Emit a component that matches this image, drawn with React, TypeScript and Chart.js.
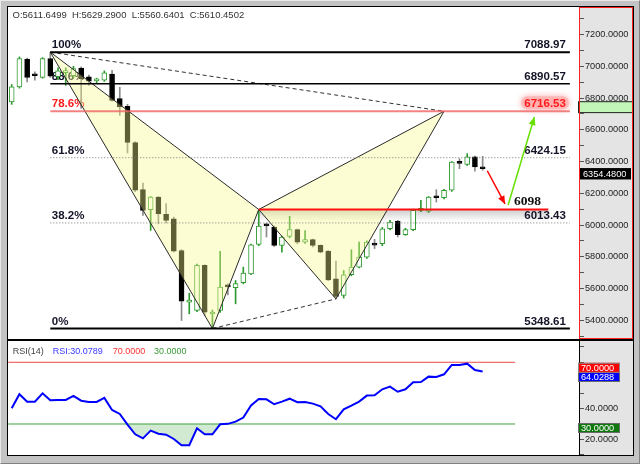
import React, { useEffect, useRef } from 'react';
import { Chart, registerables } from 'chart.js';

Chart.register(...registerables);
Chart.defaults.font.family = '"Liberation Sans", Arial, sans-serif';

// ---------------- data ----------------
const opens = [6775, 6870, 7045, 6946, 6929, 7049, 6935, 6960, 6940, 6989, 6933, 6908, 6912, 6950, 6797, 6748, 6519, 6223, 6097, 6176, 6067, 6040, 5840, 5515, 5462, 5746, 5440, 5462, 5611.6499, 5605, 5637, 5693, 5878, 6002, 5987, 5872, 5928, 5971, 5893, 5908, 5872, 5834, 5662, 5557, 5687, 5735, 5798, 5880, 5883, 5977, 6023, 5939, 5971, 6092, 6088, 6180, 6172, 6219, 6395, 6382, 6429, 6366];
const highs = [6885, 7059, 7052, 6965, 7055, 7088.97, 6990, 6990, 7000, 6996, 6945, 6925, 6971, 6975, 6868, 6760, 6525, 6265, 6180, 6180, 6135, 6050, 5845, 5571, 5755, 5750, 5465, 5834, 5629.29, 5651, 5735, 5880, 6098, 6012, 5995, 5930, 6055, 5975, 5966, 5912, 5875, 5840, 5773, 5714, 5845, 5893, 5900, 5910, 5985, 6030, 6030, 5980, 6100, 6155, 6180, 6223, 6225, 6400, 6418, 6450, 6435, 6433];
const lows = [6760, 6862, 6901, 6912, 6925, 6930, 6915, 6880, 6925, 6735, 6880, 6895, 6905, 6780, 6691, 6454, 6210, 6060, 5966, 6008, 6013, 5830, 5399, 5441, 5455, 5430, 5348.61, 5450, 5560.6401, 5504, 5630, 5688, 5870, 5925, 5865, 5830, 5920, 5882, 5885, 5862, 5825, 5650, 5535, 5540, 5680, 5730, 5790, 5852, 5870, 5970, 5925, 5935, 5965, 6085, 6080, 6145, 6165, 6212, 6355, 6375, 6340, 6345];
const closes = [6870, 7049, 6929, 6940, 7049, 6937, 6972, 6968, 6986, 6922, 6906, 6916, 6958, 6785, 6744, 6521, 6219, 6092, 6176, 6072, 6029, 5836, 5521, 5525, 5746, 5451, 5452, 5609, 5610.4502, 5631, 5697, 5876, 5993, 5995, 5872, 5924, 5971, 5893, 5908, 5872, 5830, 5655, 5550, 5687, 5735, 5798, 5893, 5874, 5977, 6019, 5939, 5971, 6092, 6096, 6176, 6172, 6219, 6397, 6388, 6429, 6366, 6354.48];
const rsiValues = [40.2, 49.3, 44.5, 44.5, 49.9, 45.4, 45.6, 45.6, 48.2, 45.1, 44.3, 44.3, 46.9, 39.1, 36.5, 29.6, 23.3, 20.7, 25.7, 23.7, 23.1, 20.3, 16.2, 16.2, 27.2, 23.3, 23.3, 29.8, 30.0789, 31.5, 34.2, 42.0, 46.2, 46.0, 42.8, 44.5, 46.4, 44.1, 44.3, 43.2, 41.5, 36.5, 33.1, 39.5, 41.9, 44.5, 48.4, 48.6, 52.5, 54.2, 50.9, 52.5, 57.0, 57.2, 60.7, 60.5, 62.2, 68.3, 68.3, 69.1, 65.0, 64.0288];

const hoverIndex = 28;
const priceTicks = [5300, 5400, 5500, 5600, 5700, 5800, 5900, 6000, 6100, 6200, 6300, 6400, 6500, 6600, 6700, 6800, 6900, 7000, 7100, 7200, 7300];
const priceLabelTicks = [5400, 5600, 5800, 6000, 6200, 6400, 6600, 6800, 7000, 7200];
const rsiTicks = [10, 20, 30, 40, 50, 60, 70, 80];
const rsiLabelTicks = [20, 40, 60];

const fibLevels = [7088.97, 6890.57, 6716.53, 6424.15, 6013.43, 5348.61];
const fibNames = ['100%', '88.6%', '78.6%', '61.8%', '38.2%', '0%'];
const fibSpan = [5, 72.3];

// harmonic pattern X, A, B, C, D
const patternIdx = [5, 26, 32, 42, 56];
const patternPrice = [7088.97, 5348.61, 6098, 5535, 6716.53];

const targetLevel = 6098;
const targetSpan = [32, 69.5];
const downArrowX = [61.6, 63.9];
const downArrowY = [6342, 6133];
const upArrowX = [64.3, 67.7];
const upArrowY = [6126, 6680];

const lastPrice = 6354.48;
const zoneTop = 6780;
const zoneBottom = 6705;

const rsiLevels = [70, 30];
const rsiLevelSpan = [-0.45, 65.2];
const rsiPeriod = 14;

// ---------------- helpers ----------------
const X_MIN = -0.479;
const X_MAX = 73.61;
const AXIS_W = 53;
const GREEN = '#2f9a2f';
const WICK_GRAY = '#8a8a8a';
const AXIS_FONT = '9.2px "Liberation Sans"';

const idx = opens.map((_, i) => i);
const bull = idx.map((i) => closes[i] >= opens[i]);

function arrowHead(ctx: CanvasRenderingContext2D, x0: number, y0: number, x1: number, y1: number, color: string) {
  const a = Math.atan2(y1 - y0, x1 - x0);
  const L = 8, W = 3.5;
  ctx.beginPath();
  ctx.moveTo(x1, y1);
  ctx.lineTo(x1 - L * Math.cos(a) + W * Math.sin(a), y1 - L * Math.sin(a) - W * Math.cos(a));
  ctx.lineTo(x1 - L * Math.cos(a) - W * Math.sin(a), y1 - L * Math.sin(a) + W * Math.cos(a));
  ctx.closePath();
  ctx.fillStyle = color;
  ctx.fill();
}

function axisBox(ctx: CanvasRenderingContext2D, x: number, y: number, w: number, h: number, bg: string, fg: string, text: string, border: string) {
  ctx.fillStyle = bg;
  ctx.fillRect(x, y, w, h);
  ctx.strokeStyle = border;
  ctx.lineWidth = 1;
  ctx.strokeRect(x + 0.5, y + 0.5, w - 1, h - 1);
  ctx.fillStyle = fg;
  ctx.font = AXIS_FONT;
  ctx.textAlign = 'left';
  ctx.textBaseline = 'middle';
  ctx.fillText(text, x + 3, y + h / 2 + 0.5);
}

const bgPlugin = {
  id: 'bgPlugin',
  beforeDraw(chart: any) {
    const { ctx, chartArea: a, width, height } = chart;
    ctx.save();
    ctx.fillStyle = '#e4e4e4';
    ctx.fillRect(0, 0, width, height);
    ctx.fillStyle = '#ffffff';
    ctx.fillRect(a.left, a.top, a.right - a.left, a.bottom - a.top);
    ctx.restore();
  },
};

const mainDecor = {
  id: 'mainDecor',
  beforeDatasetsDraw(chart: any) {
    const { ctx } = chart;
    const xs = chart.scales.x, ys = chart.scales.y;
    ctx.save();
    // soft shadow under the target line
    const ty = ys.getPixelForValue(targetLevel);
    const tx0 = xs.getPixelForValue(targetSpan[0]);
    const tx1 = xs.getPixelForValue(targetSpan[1]);
    const g = ctx.createLinearGradient(0, ty, 0, ty + 12);
    g.addColorStop(0, 'rgba(110,110,110,0.35)');
    g.addColorStop(1, 'rgba(110,110,110,0)');
    ctx.fillStyle = g;
    ctx.fillRect(tx0, ty, tx1 - tx0, 12);

    // fib labels
    ctx.font = 'bold 11.5px "Liberation Sans"';
    ctx.textBaseline = 'alphabetic';
    const lx = xs.getPixelForValue(fibSpan[0]) + 1.5;
    const rx = xs.getPixelForValue(fibSpan[1]) - 4;
    fibLevels.forEach((lvl, k) => {
      const yy = ys.getPixelForValue(lvl);
      const red = k === 2;
      const txt = lvl.toFixed(2);
      if (red) {
        const w = ctx.measureText(txt).width;
        ctx.save();
        ctx.shadowColor = 'rgba(255,120,120,0.9)';
        ctx.shadowBlur = 6;
        ctx.fillStyle = 'rgba(255,175,175,0.7)';
        ctx.beginPath();
        ctx.roundRect(rx - w - 3, yy - 15, w + 6, 13, 6);
        ctx.fill();
        ctx.restore();
      }
      ctx.fillStyle = red ? '#ff1a1a' : '#141428';
      ctx.textAlign = 'left';
      ctx.fillText(fibNames[k], lx, yy - 4);
      ctx.textAlign = 'right';
      ctx.fillText(txt, rx, yy - 4);
    });
    ctx.restore();
  },
  afterDatasetsDraw(chart: any) {
    const { ctx } = chart;
    const xs = chart.scales.x, ys = chart.scales.y;
    ctx.save();
    arrowHead(ctx, xs.getPixelForValue(downArrowX[0]), ys.getPixelForValue(downArrowY[0]), xs.getPixelForValue(downArrowX[1]), ys.getPixelForValue(downArrowY[1]), '#ff0000');
    arrowHead(ctx, xs.getPixelForValue(upArrowX[0]), ys.getPixelForValue(upArrowY[0]), xs.getPixelForValue(upArrowX[1]), ys.getPixelForValue(upArrowY[1]), '#66e000');

    // target label
    ctx.font = 'bold 13.5px "Liberation Serif"';
    ctx.fillStyle = '#111111';
    ctx.textAlign = 'left';
    ctx.textBaseline = 'alphabetic';
    ctx.fillText(String(targetLevel), xs.getPixelForValue(65.07), ys.getPixelForValue(targetLevel) - 4);

    // header OHLC
    ctx.font = '9.5px "Liberation Sans"';
    ctx.fillStyle = '#333333';
    ctx.textBaseline = 'middle';
    const h = hoverIndex;
    ctx.fillText(`O:${opens[h].toFixed(4)}  H:${highs[h].toFixed(4)}  L:${lows[h].toFixed(4)}  C:${closes[h].toFixed(4)}`, 4.5, 8.5);
    ctx.restore();
  },
  afterDraw(chart: any) {
    const { ctx, chartArea: a, width, height } = chart;
    const ys = chart.scales.y;
    ctx.save();
    // zone label
    const zt = ys.getPixelForValue(zoneTop), zb = ys.getPixelForValue(zoneBottom);
    ctx.fillStyle = '#c2f5b8';
    ctx.fillRect(a.right - 2, zt, width - a.right + 2, zb - zt);
    ctx.strokeStyle = '#222';
    ctx.lineWidth = 1;
    ctx.strokeRect(a.right - 1.5, zt + 0.5, width - a.right + 1, zb - zt - 1);
    // last price
    const py = ys.getPixelForValue(lastPrice);
    axisBox(ctx, a.right, py - 0.5, 51, 11, '#000000', '#ffffff', lastPrice.toFixed(4), '#000');
    // selection frame (red)
    ctx.strokeStyle = '#ff2020';
    ctx.lineWidth = 1;
    ctx.strokeRect(a.right - 0.5, 0.5, width - a.right, height - 1);
    ctx.restore();
  },
};

const rsiDecor = {
  id: 'rsiDecor',
  afterDraw(chart: any) {
    const { ctx, chartArea: a } = chart;
    const ys = chart.scales.y;
    ctx.save();
    ctx.strokeStyle = '#000';
    ctx.lineWidth = 1;
    ctx.beginPath();
    ctx.moveTo(a.right - 0.5, 0);
    ctx.lineTo(a.right - 0.5, a.bottom);
    ctx.stroke();

    ctx.font = '9px "Liberation Sans"';
    ctx.textBaseline = 'middle';
    ctx.textAlign = 'left';
    const last = rsiValues[rsiValues.length - 1];
    ctx.fillStyle = '#444444';
    ctx.fillText(`RSI(${rsiPeriod})`, 4.7, 11);
    ctx.fillStyle = '#3a3aff';
    ctx.fillText(`RSI:${rsiValues[hoverIndex].toFixed(4)}`, 44.7, 11);
    ctx.fillStyle = '#ff3030';
    ctx.fillText(rsiLevels[0].toFixed(4), 104.7, 11);
    ctx.fillStyle = '#3a9a3a';
    ctx.fillText(rsiLevels[1].toFixed(4), 146, 11);

    const bx = a.right - 2;
    axisBox(ctx, bx, ys.getPixelForValue(last) + 0.5, 42, 10, '#0000ff', '#ffffff', last.toFixed(4), '#6a6a6a');
    axisBox(ctx, bx, ys.getPixelForValue(rsiLevels[0]) + 0.5, 42, 10, '#ff0000', '#ffffff', rsiLevels[0].toFixed(4), '#8a8a8a');
    axisBox(ctx, bx, ys.getPixelForValue(rsiLevels[1]) - 1, 42, 10, '#0e780e', '#ffffff', rsiLevels[1].toFixed(4), '#6a6a6a');
    ctx.restore();
  },
};

function lineDs(xsArr: number[], ysArr: number[], color: string, width: number, dash: number[], order: number, extra: any = {}) {
  return {
    type: 'line',
    data: xsArr.map((x, k) => ({ x, y: ysArr[k] })),
    borderColor: color,
    borderWidth: width,
    borderDash: dash,
    pointRadius: 0,
    tension: 0,
    fill: false,
    order,
    ...extra,
  };
}

function mainConfig(): any {
  const fibStyles = [
    { c: '#000000', w: 2, d: [] as number[] },
    { c: '#000000', w: 1.5, d: [] },
    { c: 'rgba(240,100,100,0.8)', w: 2, d: [] },
    { c: '#7a7a7a', w: 1, d: [1, 2] },
    { c: '#7a7a7a', w: 1, d: [1, 2] },
    { c: '#000000', w: 2, d: [] },
  ];
  const tri1 = [0, 1, 2, 0];
  const tri2 = [2, 3, 4, 2];
  const datasets: any[] = [
    {
      type: 'bar',
      data: idx.map((i) => ({ x: i, y: [lows[i], highs[i]] })),
      backgroundColor: bull.map((b) => (b ? GREEN : WICK_GRAY)),
      borderWidth: 0,
      barThickness: 1,
      grouped: false,
      order: 10,
    },
    {
      type: 'bar',
      data: idx.map((i) => ({ x: i, y: [opens[i], closes[i]] })),
      backgroundColor: bull.map((b) => (b ? '#ffffff' : '#000000')),
      borderColor: bull.map((b) => (b ? GREEN : '#000000')),
      borderWidth: 1,
      borderSkipped: false,
      barThickness: 5,
      minBarLength: 2,
      grouped: false,
      order: 9,
    },
    lineDs(tri1.map((k) => patternIdx[k]), tri1.map((k) => patternPrice[k]), '#2a2a2a', 1, [], 6, { fill: 'shape', backgroundColor: 'rgba(250,250,140,0.38)' }),
    lineDs(tri2.map((k) => patternIdx[k]), tri2.map((k) => patternPrice[k]), '#2a2a2a', 1, [], 6, { fill: 'shape', backgroundColor: 'rgba(250,250,140,0.38)' }),
    lineDs([patternIdx[0], patternIdx[4]], [patternPrice[0], patternPrice[4]], '#333333', 1, [4, 3], 5),
    lineDs([patternIdx[1], patternIdx[3]], [patternPrice[1], patternPrice[3]], '#333333', 1, [4, 3], 5),
    ...fibLevels.map((lvl, k) => lineDs(fibSpan, [lvl, lvl], fibStyles[k].c, fibStyles[k].w, fibStyles[k].d, 4)),
    lineDs(targetSpan, [targetLevel, targetLevel], '#ff1010', 2, [], 3),
    lineDs(downArrowX, downArrowY, '#ff0000', 1.5, [], 2),
    lineDs(upArrowX, upArrowY, '#66e000', 1.5, [], 2),
  ];
  return {
    type: 'bar',
    data: { datasets },
    options: {
      responsive: false,
      animation: false,
      devicePixelRatio: 1,
      events: [],
      layout: { padding: 0 },
      plugins: { legend: { display: false }, tooltip: { enabled: false } },
      scales: {
        x: { type: 'linear', min: X_MIN, max: X_MAX, display: false, offset: false },
        y: {
          type: 'linear',
          position: 'right',
          min: 5282.5,
          max: 7373.2,
          afterBuildTicks: (s: any) => { s.ticks = priceTicks.map((v) => ({ value: v })); },
          afterFit: (s: any) => { s.width = AXIS_W; s.paddingTop = 0; s.paddingBottom = 0; },
          grid: { drawOnChartArea: false, drawTicks: true, tickLength: 4, color: '#555', tickColor: '#555' },
          border: { display: false },
          ticks: {
            autoSkip: false,
            padding: 1,
            color: '#222',
            font: { size: 9.2, family: '"Liberation Sans"' },
            callback: (v: any) => (priceLabelTicks.includes(Number(v)) ? Number(v).toFixed(4) : ''),
          },
        },
      },
    },
    plugins: [bgPlugin, mainDecor],
  };
}

function rsiConfig(): any {
  const datasets: any[] = [
    lineDs(idx, rsiValues, '#0000ff', 2, [], 0, {
      fill: { target: { value: rsiLevels[1] }, above: 'rgba(0,0,0,0)', below: 'rgba(50,155,50,0.22)' },
    }),
    lineDs(rsiLevelSpan, [rsiLevels[0], rsiLevels[0]], '#f04848', 1, [], 1),
    lineDs(rsiLevelSpan, [rsiLevels[1], rsiLevels[1]], '#3fa33f', 1, [], 1),
  ];
  return {
    type: 'line',
    data: { datasets },
    options: {
      responsive: false,
      animation: false,
      devicePixelRatio: 1,
      events: [],
      layout: { padding: 0 },
      plugins: { legend: { display: false }, tooltip: { enabled: false } },
      scales: {
        x: { type: 'linear', min: X_MIN, max: X_MAX, display: false, offset: false },
        y: {
          type: 'linear',
          position: 'right',
          min: 9.9,
          max: 83.8,
          afterBuildTicks: (s: any) => { s.ticks = rsiTicks.map((v) => ({ value: v })); },
          afterFit: (s: any) => { s.width = AXIS_W; s.paddingTop = 0; s.paddingBottom = 0; },
          grid: { drawOnChartArea: false, drawTicks: true, tickLength: 4, color: '#555', tickColor: '#555' },
          border: { display: false },
          ticks: {
            autoSkip: false,
            padding: 1,
            color: '#222',
            font: { size: 9.2, family: '"Liberation Sans"' },
            callback: (v: any) => (rsiLabelTicks.includes(Number(v)) ? Number(v).toFixed(4) : ''),
          },
        },
      },
    },
    plugins: [bgPlugin, rsiDecor],
  };
}

export default function App() {
  const mainRef = useRef<HTMLCanvasElement>(null);
  const rsiRef = useRef<HTMLCanvasElement>(null);
  useEffect(() => {
    const c1 = new Chart(mainRef.current as HTMLCanvasElement, mainConfig());
    const c2 = new Chart(rsiRef.current as HTMLCanvasElement, rsiConfig());
    return () => {
      c1.destroy();
      c2.destroy();
    };
  }, []);
  return (
    <div style={{ position: 'fixed', left: 0, top: 0, width: 640, height: 464, background: '#c3c3c3', overflow: 'hidden' }}>
      <div style={{ position: 'absolute', left: 0, top: 0, width: 640, height: 464, boxSizing: 'border-box', borderTop: '1px solid #e8e8e8', borderLeft: '1px solid #e8e8e8', borderRight: '1px solid #808080', borderBottom: '1px solid #808080' }} />
      <div style={{ position: 'absolute', left: 7, top: 6, width: 627, height: 334, border: '1px solid #000', boxSizing: 'border-box', background: '#fff' }} />
      <div style={{ position: 'absolute', left: 7, top: 340, width: 627, height: 116, border: '1px solid #000', boxSizing: 'border-box', background: '#fff' }} />
      <canvas ref={mainRef} width={625} height={332} style={{ position: 'absolute', left: 8, top: 7, width: 625, height: 332 }} />
      <canvas ref={rsiRef} width={625} height={114} style={{ position: 'absolute', left: 8, top: 341, width: 625, height: 114 }} />
    </div>
  );
}
